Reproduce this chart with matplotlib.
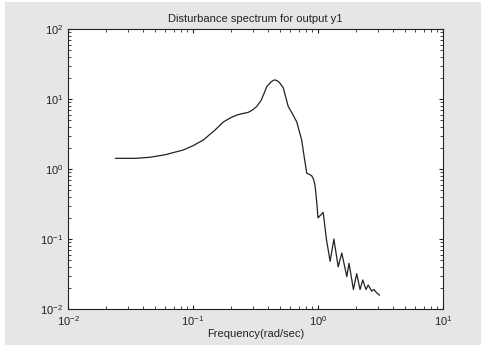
import matplotlib
matplotlib.use("Agg")
import matplotlib.pyplot as plt
from matplotlib.patches import Rectangle
from matplotlib.ticker import LogLocator, NullFormatter

plt.rcParams['font.family'] = ['Liberation Sans', 'DejaVu Sans']
plt.rcParams['mathtext.fontset'] = 'custom'
plt.rcParams['mathtext.rm'] = 'Liberation Sans'
plt.rcParams['mathtext.it'] = 'Liberation Sans'

title = "Disturbance spectrum for output y1"
xlabel = "Frequency(rad/sec)"

freq = [0.024, 0.035, 0.045, 0.06, 0.0836, 0.1, 0.121, 0.15, 0.175, 0.2,
        0.224, 0.25, 0.277, 0.3, 0.323, 0.35, 0.37, 0.389, 0.42, 0.44, 0.453, 0.47, 0.49,
        0.527, 0.578, 0.62, 0.676, 0.74, 0.775, 0.813, 0.85, 0.89, 0.92, 0.946,
        0.975, 1.0, 1.05, 1.1, 1.17, 1.25, 1.34, 1.45, 1.55, 1.70,
        1.77, 1.92, 2.04, 2.17, 2.28, 2.42, 2.52, 2.69, 2.8, 2.95, 3.1]
mag = [1.42, 1.42, 1.47, 1.6, 1.87, 2.15, 2.6, 3.6, 4.7, 5.4,
       5.9, 6.2, 6.45, 7.0, 7.8, 9.5, 12.0, 15.0, 17.5, 18.5, 18.7, 18.3, 17.3,
       14.5, 7.8, 6.3, 4.7, 2.6, 1.5, 0.87, 0.84, 0.80, 0.72, 0.59,
       0.35, 0.2, 0.22, 0.24, 0.097, 0.048, 0.10, 0.04, 0.063, 0.029,
       0.045, 0.019, 0.032, 0.019, 0.026, 0.019, 0.022, 0.018, 0.019, 0.017, 0.0158]

fig = plt.figure(figsize=(4.84, 3.46), dpi=100)
fig.patch.set_facecolor('white')
fig.patches.append(Rectangle((5/484, 1/346), 476/484, 343/346, transform=fig.transFigure,
                             facecolor='#e6e6e6', edgecolor='none', zorder=-10))
ax = fig.add_axes([68/484, 1 - 309/346, 375/484, 280/346])
ax.set_facecolor('white')
ax.plot(freq, mag, color='#222222', lw=0.9)
ax.set_xscale('log')
ax.set_yscale('log')
ax.set_xlim(1e-2, 1e1)
ax.set_ylim(1e-2, 1e2)
ax.xaxis.set_major_locator(LogLocator(base=10, numticks=10))
ax.yaxis.set_major_locator(LogLocator(base=10, numticks=10))
ax.xaxis.set_minor_locator(LogLocator(base=10, subs=range(2, 10), numticks=20))
ax.yaxis.set_minor_locator(LogLocator(base=10, subs=range(2, 10), numticks=20))
ax.xaxis.set_minor_formatter(NullFormatter())
ax.yaxis.set_minor_formatter(NullFormatter())
ax.tick_params(which='both', direction='in', top=True, right=True, labelsize=8,
               colors='#222222')
ax.tick_params(which='major', length=3, width=0.8)
ax.tick_params(which='minor', length=2, width=0.6)
for s in ax.spines.values():
    s.set_color('#222222')
    s.set_linewidth(0.8)
ax.set_title(title, fontsize=8, color='#222222', pad=5)
ax.set_xlabel(xlabel, fontsize=8, color='#222222', labelpad=1)
fig.savefig('out.png', dpi=100, facecolor=fig.get_facecolor())
